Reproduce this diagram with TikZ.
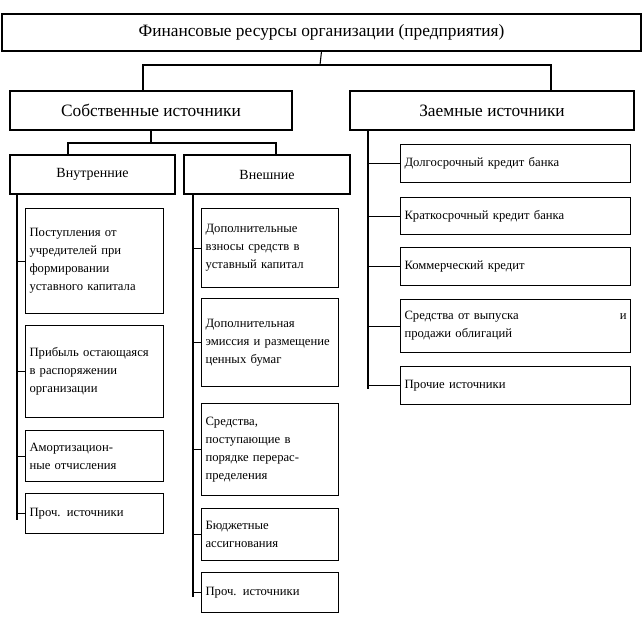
\documentclass[tikz,border=0pt]{standalone}
\usepackage{fontspec}
\setmainfont{Liberation Serif}
\usetikzlibrary{calc}
\tikzset{
  box/.style={draw, thick, inner sep=3pt},
  item/.style={box, anchor=north west, align=left, text width=#1, font=\fontsize{9.5}{13.5}\selectfont, inner ysep=4pt},
  conn/.style={thick},
}
\begin{document}
\begin{tikzpicture}[x=0.75pt, y=-0.75pt]
\useasboundingbox (0,0) rectangle (643,625);
% top level
\node[box, minimum width=639*0.75pt, minimum height=37*0.75pt, font=\fontsize{13}{15}\selectfont] (fin) at (321.5,32.5) {Финансовые ресурсы организации (предприятия)};
\node[box, minimum width=282*0.75pt, minimum height=39*0.75pt, font=\fontsize{13}{15}\selectfont] (own) at (151,110.5) {Собственные источники};
\node[box, minimum width=284*0.75pt, minimum height=39*0.75pt, font=\fontsize{13}{15}\selectfont] (loan) at (492,110.5) {Заемные источники};
\node[box, minimum width=165*0.75pt, minimum height=39*0.75pt, font=\fontsize{10.5}{12}\selectfont] (int) at (92.5,174.5) {Внутренние};
\node[box, minimum width=166*0.75pt, minimum height=39*0.75pt, font=\fontsize{10.5}{12}\selectfont] (ext) at (267,174.5) {Внешние};
\draw[conn] (fin.south) -- (320,65) coordinate (j1);
\draw[conn] (143,91) |- (j1) -| (551,91);
\draw[conn] (own.south) -- (151,143) coordinate (j2);
\draw[conn] (68,155) |- (j2) -| (276,155);
% internal sources
\node[item=130*0.75pt, minimum height=105*0.75pt] (i1) at (25,208) {Поступления от учредителей при формировании уставного капитала};
\node[item=130*0.75pt, minimum height=92*0.75pt] (i2) at (25,325) {Прибыль остающаяся в распоряжении организации};
\node[item=130*0.75pt, minimum height=51*0.75pt] (i3) at (25,430) {Амортизацион-\\ные отчисления};
\node[item=130*0.75pt, minimum height=40*0.75pt] (i4) at (25,493) {Проч. источники};
\draw[conn] (17,194) -- (17,520);
\foreach \n in {i1,i2,i3,i4} \draw[conn] (\n.west) -- (\n.west -| 17,0);
% external sources
\node[item=129*0.75pt, minimum height=79*0.75pt] (e1) at (201,208) {Дополнительные взносы средств в уставный капитал};
\node[item=129*0.75pt, minimum height=88*0.75pt] (e2) at (201,298) {Дополнительная эмиссия и размещение ценных бумаг};
\node[item=129*0.75pt, minimum height=92*0.75pt] (e3) at (201,403) {Средства, поступающие в порядке перерас-\\пределения};
\node[item=129*0.75pt, minimum height=52*0.75pt] (e4) at (201,508) {Бюджетные ассигнования};
\node[item=129*0.75pt, minimum height=40*0.75pt] (e5) at (201,572) {Проч. источники};
\draw[conn] (193,194) -- (193,597);
\foreach \n in {e1,e2,e3,e4,e5} \draw[conn] (\n.west) -- (\n.west -| 193,0);
% borrowed sources
\node[item=222*0.75pt, minimum height=38*0.75pt] (l1) at (400,144) {Долгосрочный кредит банка};
\node[item=222*0.75pt, minimum height=37*0.75pt] (l2) at (400,197) {Краткосрочный кредит банка};
\node[item=222*0.75pt, minimum height=38*0.75pt] (l3) at (400,247) {Коммерческий кредит};
\node[item=222*0.75pt, minimum height=53*0.75pt] (l4) at (400,299) {Средства от выпуска \hfill и\\продажи облигаций};
\node[item=222*0.75pt, minimum height=38*0.75pt] (l5) at (400,366) {Прочие источники};
\draw[conn] (368,130) -- (368,389);
\foreach \n in {l1,l2,l3,l4,l5} \draw[conn] (\n.west) -- (\n.west -| 368,0);
\end{tikzpicture}
\end{document}
